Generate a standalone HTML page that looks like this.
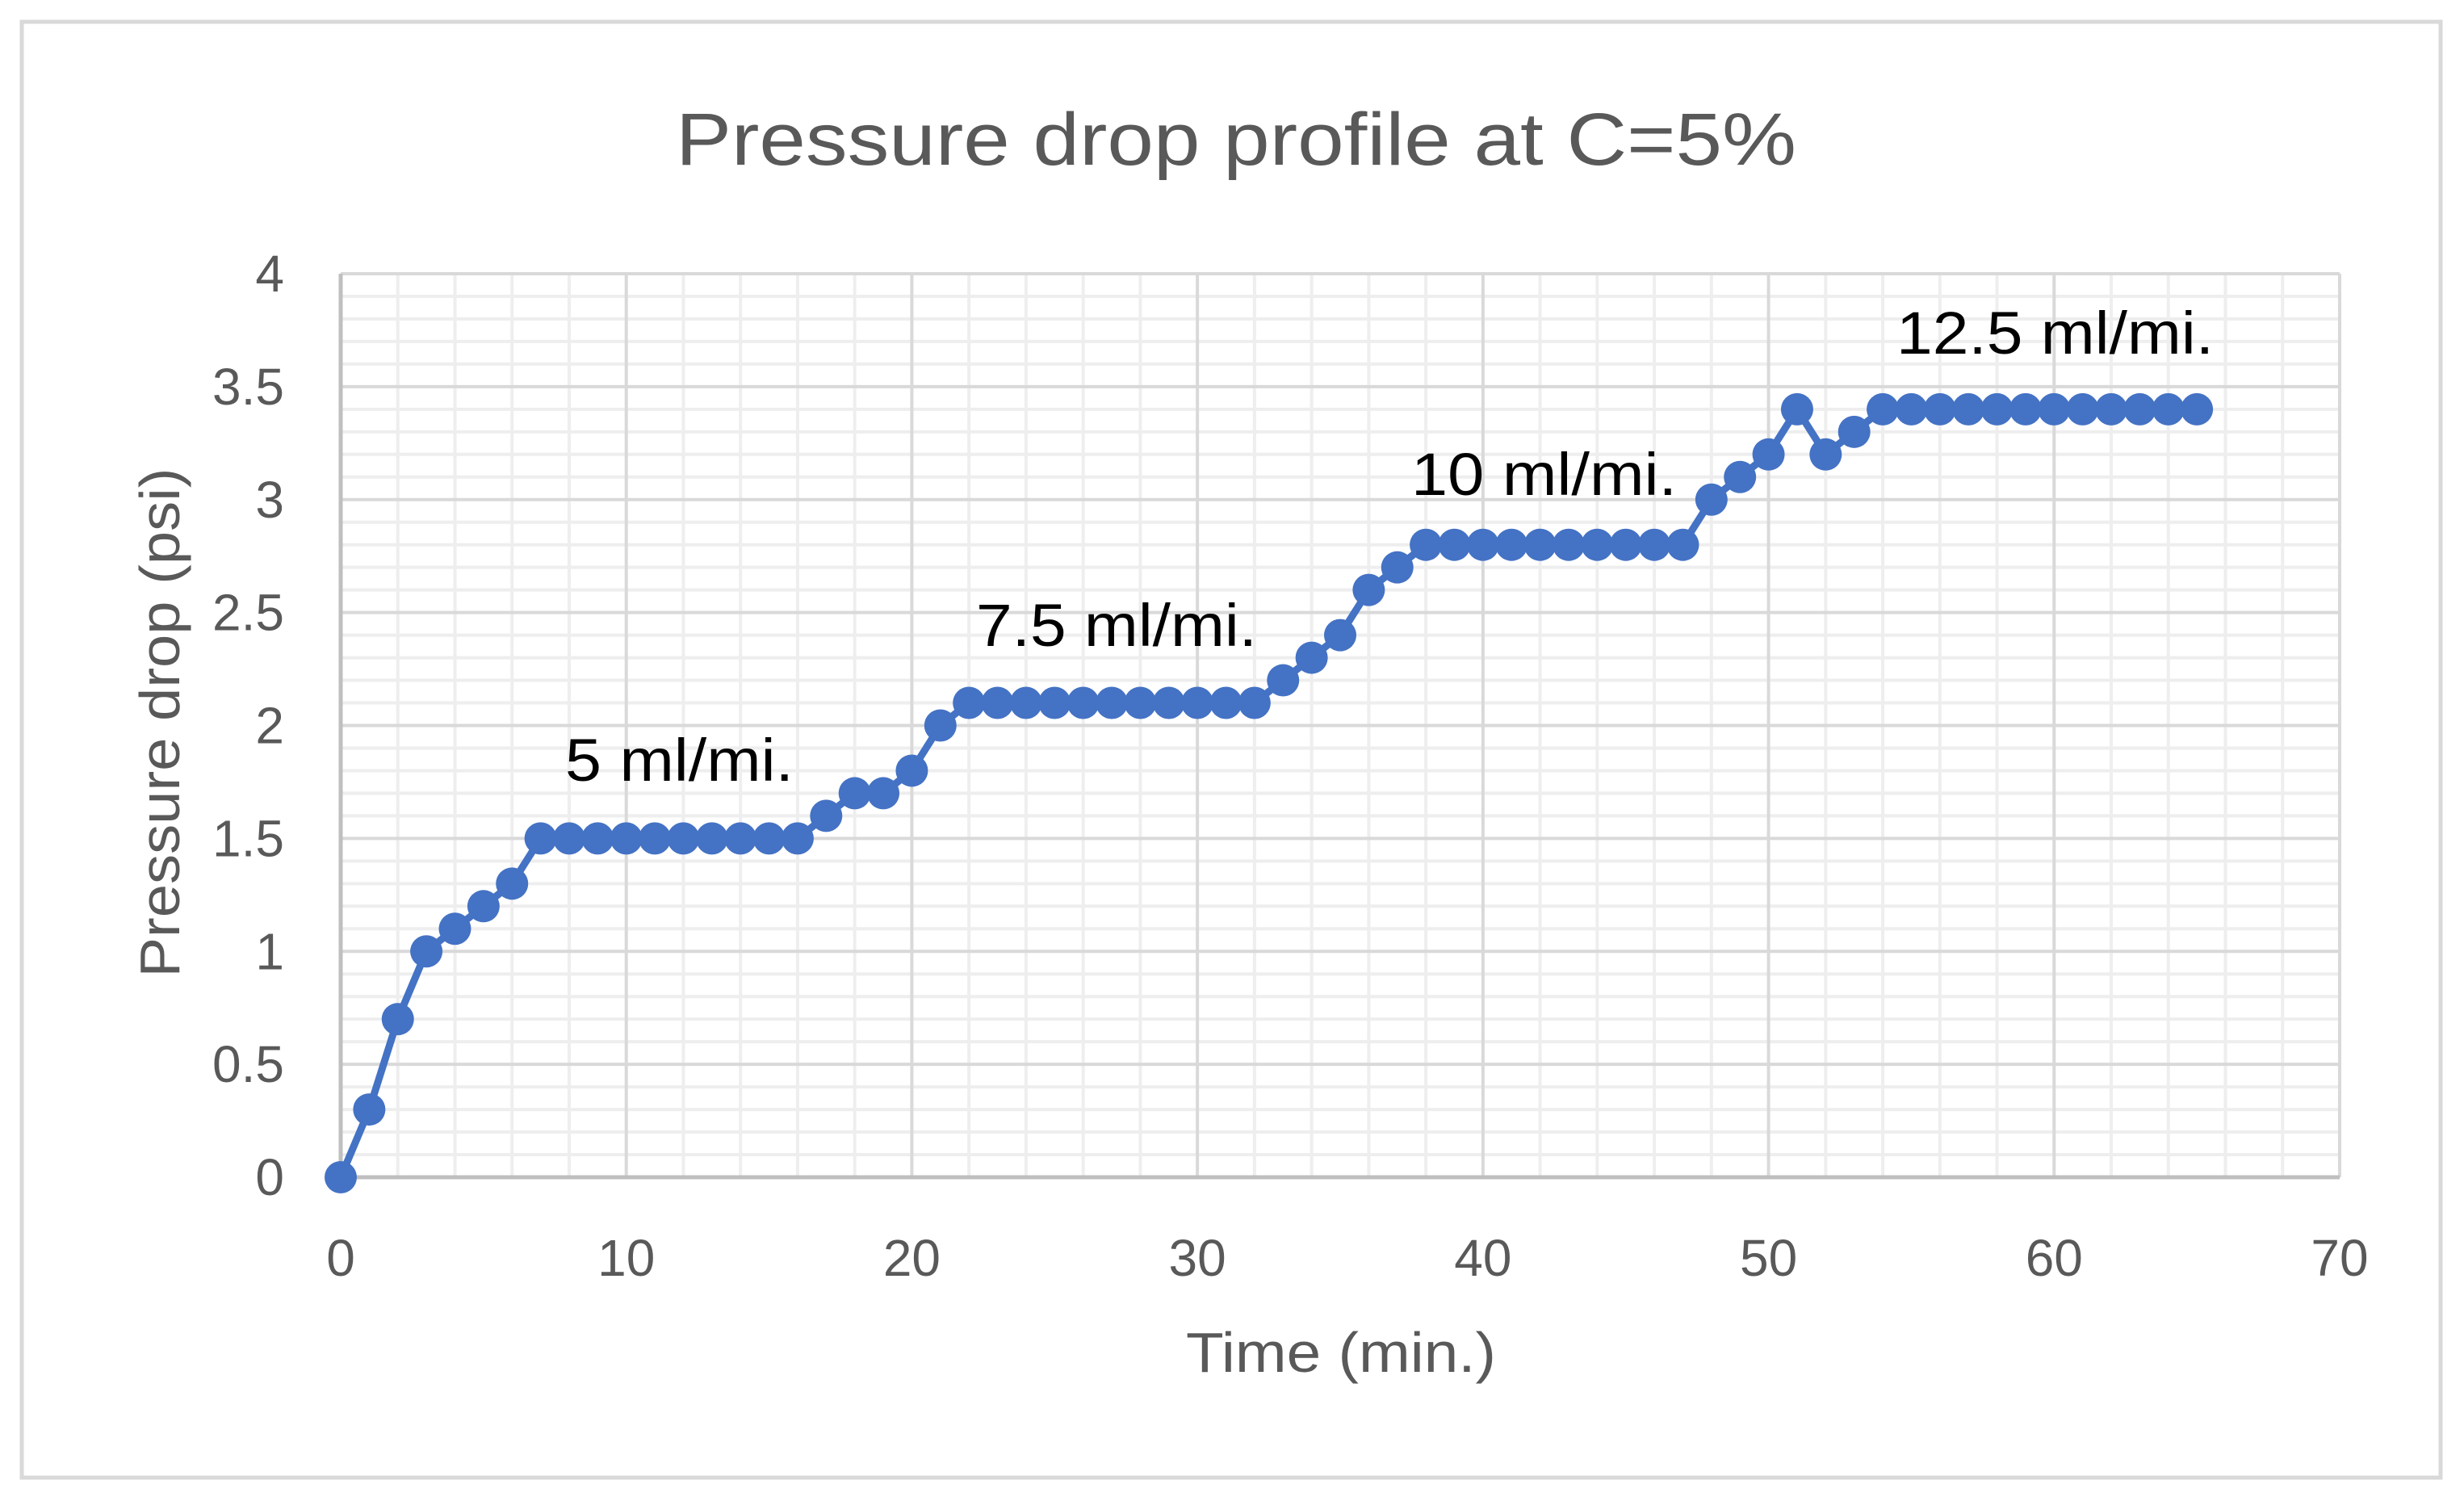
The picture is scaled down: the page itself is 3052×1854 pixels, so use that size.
<!DOCTYPE html>
<html><head><meta charset="utf-8"><style>
html,body{margin:0;padding:0;background:#fff;}
svg{display:block;font-family:"Liberation Sans",sans-serif;}
</style></head><body>
<svg id="chart" width="3052" height="1854" viewBox="0 0 3052 1854">
<rect x="27" y="27" width="2996" height="1803" fill="#fff" stroke="#d9d9d9" stroke-width="5"/>
<text x="1531" y="204" text-anchor="middle" font-size="92" fill="#595959" textLength="1388" lengthAdjust="spacingAndGlyphs">Pressure drop profile at C=5%</text>
<g id="grid"></g>
<g id="axes"></g>
<g id="series"></g>
<text transform="translate(222,895) rotate(-90)" text-anchor="middle" font-size="70" fill="#595959" textLength="631" lengthAdjust="spacingAndGlyphs">Pressure drop (psi)</text>
<text x="1661" y="1699" text-anchor="middle" font-size="70" fill="#595959" textLength="384" lengthAdjust="spacingAndGlyphs">Time (min.)</text>
<g id="annots"></g>
</svg>
<script>
const times = [0,1,2,3,4,5,6,7,8,9,10,11,12,13,14,15,16,17,18,19,20,21,22,23,24,25,26,27,28,29,30,31,32,33,34,35,36,37,38,39,40,41,42,43,44,45,46,47,48,49,50,51,52,53,54,55,56,57,58,59,60,61,62,63,64,65];
const pressures = [0,0.3,0.7,1.0,1.1,1.2,1.3,1.5,1.5,1.5,1.5,1.5,1.5,1.5,1.5,1.5,1.5,1.6,1.7,1.7,1.8,2.0,2.1,2.1,2.1,2.1,2.1,2.1,2.1,2.1,2.1,2.1,2.1,2.2,2.3,2.4,2.6,2.7,2.8,2.8,2.8,2.8,2.8,2.8,2.8,2.8,2.8,2.8,3.0,3.1,3.2,3.4,3.2,3.3,3.4,3.4,3.4,3.4,3.4,3.4,3.4,3.4,3.4,3.4,3.4,3.4];
const xTicks = [0,10,20,30,40,50,60,70];
const yTicks = [0,0.5,1,1.5,2,2.5,3,3.5,4];
const yTickLabels = ["0","0.5","1","1.5","2","2.5","3","3.5","4"];
const annotLabels = ["5 ml/mi.","7.5 ml/mi.","10 ml/mi.","12.5 ml/mi."];
const annotX = [7.86,22.25,37.49,54.48];
const annotY = [1.755,2.352,3.02,3.646];
const annotW = [283,348,329,393];

const X0=422,X1=2898,Y0=1458,Y1=339;
const sx=v=>X0+(v/70)*(X1-X0);
const sy=v=>Y0-(v/4)*(Y0-Y1);
const NS="http://www.w3.org/2000/svg";
function mk(tag,attrs,parent){const e=document.createElementNS(NS,tag);for(const k in attrs)e.setAttribute(k,attrs[k]);parent.appendChild(e);return e;}
const grid=document.getElementById('grid'),axes=document.getElementById('axes'),series=document.getElementById('series'),ann=document.getElementById('annots');
for(let i=0;i<=35;i++){const v=i*2;if(v%10===0)continue;
 const l=mk('line',{x1:sx(v),x2:sx(v),y1:Y1,y2:Y0,stroke:'#eeeeee','stroke-width':4},grid);
 
 }
for(let i=0;i<=40;i++){if(i%5===0)continue;const v=i*0.1;
 const l=mk('line',{x1:X0,x2:X1,y1:sy(v),y2:sy(v),stroke:'#eeeeee','stroke-width':4},grid);
 
 }
xTicks.forEach(v=>{if(v===0)return;
 const l=mk('line',{x1:sx(v),x2:sx(v),y1:Y1,y2:Y0,stroke:'#d9d9d9','stroke-width':4},grid);
 
 });
yTicks.forEach(v=>{if(v===0)return;
 const l=mk('line',{x1:X0,x2:X1,y1:sy(v),y2:sy(v),stroke:'#d9d9d9','stroke-width':4},grid);
 
 });
let a=mk('line',{x1:X0,x2:X0,y1:Y1,y2:Y0,stroke:'#bfbfbf','stroke-width':5},axes);


a=mk('line',{x1:X0,x2:X1,y1:Y0,y2:Y0,stroke:'#bfbfbf','stroke-width':5},axes);


xTicks.forEach(v=>{const t=mk('text',{x:sx(v),y:1580,'text-anchor':'middle','font-size':64,fill:'#595959'},axes);t.textContent=String(v);
 
 });
yTicks.forEach((v,i)=>{const t=mk('text',{x:352,y:sy(v)+22,'text-anchor':'end','font-size':64,fill:'#595959'},axes);t.textContent=yTickLabels[i];
 
 });
const pts=times.map((t,i)=>sx(t)+','+sy(pressures[i])).join(' ');
const pl=mk('polyline',{points:pts,fill:'none',stroke:'#4472c4','stroke-width':9,'stroke-linejoin':'round'},series);


times.forEach((t,i)=>{const c=mk('circle',{cx:sx(t),cy:sy(pressures[i]),r:20,fill:'#4472c4'},series);
 
 });
annotLabels.forEach((s,i)=>{const t=mk('text',{x:sx(annotX[i]),y:sy(annotY[i]),'font-size':74,fill:'#000',textLength:annotW[i],lengthAdjust:'spacingAndGlyphs'},ann);t.textContent=s;
 
 });
</script>
</body></html>
